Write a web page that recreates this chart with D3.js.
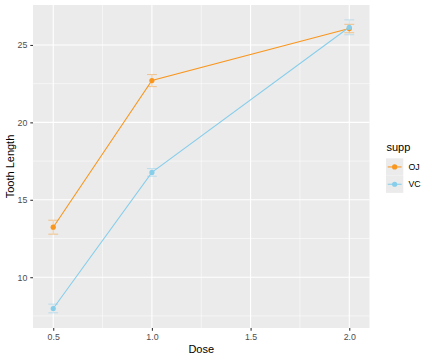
<!DOCTYPE html>
<html><head><meta charset="utf-8">
<script src="https://cdn.jsdelivr.net/npm/d3@7"></script>
<style>body{margin:0;background:#fff}svg{display:block;font-family:"Liberation Sans",Arial,sans-serif}</style>
</head><body><svg id="c" width="432" height="360"></svg>
<script>
const doses = [0.5, 1.0, 2.0];
const supps = ["OJ", "VC"];
const ojLen = [13.23, 22.70, 26.06];
const vcLen = [7.98, 16.77, 26.14];
const ojErr = [0.45, 0.39, 0.27];
const vcErr = [0.28, 0.25, 0.48];
const xTicks = [0.5, 1.0, 1.5, 2.0];
const xTickLabels = ["0.5", "1.0", "1.5", "2.0"];
const yTicks = [10, 15, 20, 25];
const colors = {OJ: "#F8961E", VC: "#87CEEB"};

const series = [
  {supp: "OJ", vals: ojLen, err: ojErr},
  {supp: "VC", vals: vcLen, err: vcErr}
];

const svg = d3.select("#c");
const L = 33, R = 369.5, T = 5, B = 328;
const x = d3.scaleLinear().domain([0.3975, 2.1025]).range([L, R]);
const y = d3.scaleLinear().domain([6.72, 27.58]).range([B, T]);

svg.append("rect").attr("x", L).attr("y", T).attr("width", R - L).attr("height", B - T).attr("fill", "#EBEBEB");
const g = svg.append("g");
const xMinor = [0.75, 1.25, 1.75];
const yMinor = [7.5, 12.5, 17.5, 22.5];
g.selectAll(".xm").data(xMinor).join("line").attr("x1", d => x(d)).attr("x2", d => x(d)).attr("y1", T).attr("y2", B).attr("stroke", "#fff").attr("stroke-width", 0.55);
g.selectAll(".ym").data(yMinor).join("line").attr("y1", d => y(d)).attr("y2", d => y(d)).attr("x1", L).attr("x2", R).attr("stroke", "#fff").attr("stroke-width", 0.55);
g.selectAll(".xM").data(xTicks).join("line").attr("x1", d => x(d)).attr("x2", d => x(d)).attr("y1", T).attr("y2", B).attr("stroke", "#fff").attr("stroke-width", 1.1);
g.selectAll(".yM").data(yTicks).join("line").attr("y1", d => y(d)).attr("y2", d => y(d)).attr("x1", L).attr("x2", R).attr("stroke", "#fff").attr("stroke-width", 1.1);

// axes
const xAxis = svg.append("g").attr("transform", `translate(0,${B})`)
  .call(d3.axisBottom(x).tickValues(xTicks).tickFormat((d, i) => xTickLabels[i]).tickSize(2.7).tickPadding(3));
const yAxis = svg.append("g").attr("transform", `translate(${L},0)`)
  .call(d3.axisLeft(y).tickValues(yTicks).tickSize(2.7).tickPadding(3));
[xAxis, yAxis].forEach(a => {
  a.select(".domain").remove();
  a.selectAll(".tick line").attr("stroke", "#333").attr("stroke-width", 1.07);
  a.selectAll(".tick text").attr("fill", "#4D4D4D").attr("font-size", "8.8px").attr("font-family", "Liberation Sans, Arial, sans-serif");
});

// lines, error bars, points
const line = d3.line().x((d, i) => x(doses[i])).y(d => y(d));
series.forEach(s => {
  const c = colors[s.supp];
  const eb = svg.append("g").attr("opacity", 0.45);
  s.vals.forEach((v, i) => {
    const lo = v - s.err[i], hi = v + s.err[i];
    eb.append("line").attr("x1", x(doses[i])).attr("x2", x(doses[i])).attr("y1", y(lo)).attr("y2", y(hi)).attr("stroke", c).attr("stroke-width", 1.07);
    eb.append("line").attr("x1", x(doses[i] - 0.025)).attr("x2", x(doses[i] + 0.025)).attr("y1", y(lo)).attr("y2", y(lo)).attr("stroke", c).attr("stroke-width", 1.07);
    eb.append("line").attr("x1", x(doses[i] - 0.025)).attr("x2", x(doses[i] + 0.025)).attr("y1", y(hi)).attr("y2", y(hi)).attr("stroke", c).attr("stroke-width", 1.07);
  });
});
series.forEach(s => {
  const c = colors[s.supp];
  svg.append("path").datum(s.vals).attr("d", line).attr("fill", "none").attr("stroke", c).attr("stroke-width", 1.07);
  svg.append("g").selectAll("circle").data(s.vals).join("circle")
    .attr("cx", (d, i) => x(doses[i])).attr("cy", d => y(d)).attr("r", 2.6).attr("fill", c);
});

// axis titles
svg.append("text").attr("x", (L + R) / 2).attr("y", 353).attr("text-anchor", "middle").attr("font-size", "11px").attr("fill", "#000").text("Dose");
svg.append("text").attr("transform", `translate(13.5,${(T + B) / 2}) rotate(-90)`).attr("text-anchor", "middle").attr("font-size", "11px").attr("fill", "#000").text("Tooth Length");

// legend
const lg = svg.append("g");
lg.append("text").attr("x", 386.5).attr("y", 151).attr("font-size", "11px").attr("fill", "#000").text("supp");
supps.forEach((s, i) => {
  const ky = 158.3 + i * 17.3;
  lg.append("rect").attr("x", 386).attr("y", ky).attr("width", 17.3).attr("height", 17.3).attr("fill", "#EBEBEB");
  lg.append("line").attr("x1", 387.7).attr("x2", 401.6).attr("y1", ky + 8.65).attr("y2", ky + 8.65).attr("stroke", colors[s]).attr("stroke-width", 1.07);
  lg.append("circle").attr("cx", 394.65).attr("cy", ky + 8.65).attr("r", 2.6).attr("fill", colors[s]);
  lg.append("text").attr("x", 408.5).attr("y", ky + 8.65).attr("dy", "0.35em").attr("font-size", "8.8px").attr("fill", "#000").text(s);
});
</script></body></html>
